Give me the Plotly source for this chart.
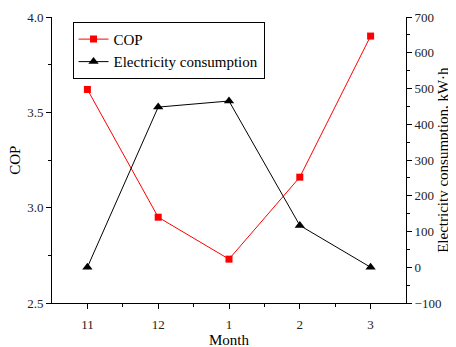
import plotly.graph_objects as go

months = ["11", "12", "1", "2", "3"]
cop = [3.62, 2.95, 2.73, 3.16, 3.90]
electricity = [0, 448, 465, 117, 0]

xpos = list(range(len(months)))
FONT = "'Liberation Serif', 'Times New Roman', serif"

fig = go.Figure()
fig.add_trace(go.Scatter(
    x=xpos, y=cop, name="COP", mode="lines+markers",
    line=dict(color="#ff0000", width=1),
    marker=dict(symbol="square", size=7, color="#ff0000"),
    yaxis="y"))
fig.add_trace(go.Scatter(
    x=xpos, y=electricity, name="Electricity consumption", mode="lines+markers",
    line=dict(color="#000000", width=1),
    marker=dict(symbol="triangle-up", size=9, color="#000000"),
    yaxis="y2"))

axis_common = dict(showgrid=False, zeroline=False, showline=True, linecolor="black",
                   linewidth=1, ticks="outside", ticklen=5, tickcolor="black",
                   automargin=False,
                   tickfont=dict(family=FONT, size=13, color="#222"))

# the page body has an 8px margin, so the figure is sized to fit inside it
fig.update_layout(
    width=448, height=339,
    margin=dict(l=44, r=50, t=9, b=44),
    paper_bgcolor="white", plot_bgcolor="white",
    font=dict(family=FONT, color="black"),
    showlegend=True,
    legend=dict(x=0.058, y=0.983, xanchor="left", yanchor="top",
                bordercolor="black", borderwidth=1, bgcolor="white",
                font=dict(family=FONT, size=15, color="black"),
                tracegroupgap=0, itemwidth=30),
    xaxis=dict(**axis_common, range=[-0.5, 4.5], tickmode="array",
               tickvals=xpos, ticktext=months, ticklabelstandoff=4,
               minor=dict(tickmode="array", tickvals=[0.5 + i for i in range(4)],
                          ticklen=3, tickcolor="black", ticks="outside")),
    yaxis=dict(**axis_common, range=[2.5, 4.0], tickmode="linear", tick0=2.5, dtick=0.5,
               tickformat=".1f",
               minor=dict(dtick=0.25, tick0=2.5, ticklen=3, tickcolor="black", ticks="outside")),
    yaxis2=dict(**axis_common, overlaying="y", side="right", range=[-100, 700],
                tickmode="linear", tick0=-100, dtick=100,
                minor=dict(dtick=50, tick0=-100, ticklen=3, tickcolor="black", ticks="outside")),
    annotations=[
        dict(text="COP", xref="paper", yref="paper", x=-0.105, y=0.5, textangle=-90,
             showarrow=False, xanchor="center", yanchor="middle",
             font=dict(family=FONT, size=15, color="black")),
        dict(text="Electricity consumption, kW·h", xref="paper", yref="paper", x=1.104, y=0.5,
             textangle=-90, showarrow=False, xanchor="center", yanchor="middle",
             font=dict(family=FONT, size=15, color="black")),
        dict(text="Month", xref="paper", yref="paper", x=0.5, y=-0.129,
             showarrow=False, xanchor="center", yanchor="middle",
             font=dict(family=FONT, size=15, color="black")),
    ],
)

fig.write_html("out.html")
